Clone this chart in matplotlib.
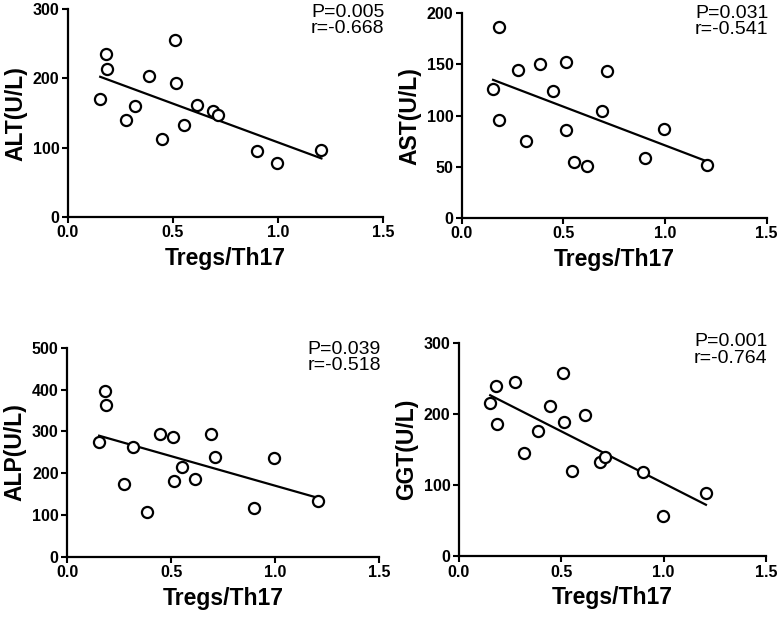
import numpy as np
import matplotlib
matplotlib.use('Agg')
import matplotlib.pyplot as plt

plt.rcParams['font.family'] = ['Liberation Sans', 'DejaVu Sans']
plt.rcParams['font.weight'] = 'bold'

# Tregs/Th17 ratio (shared by all four panels)
ratio = [0.154, 0.183, 0.185, 0.275, 0.318, 0.385, 0.447, 0.511, 0.513,
         0.552, 0.617, 0.692, 0.713, 0.899, 0.996, 1.207]

alt = [170, 235, 213, 140, 160, 203, 113, 255, 194, 133, 161, 153, 147, 95, 78, 97]
ast = [126, 186, 96, 144, 75, 150, 124, 152, 86, 55, 51, 104, 143, 59, 87, 52]
alp = [276, 397, 363, 174, 262, 107, 295, 286, 182, 214, 187, 293, 239, 118, 237, 134]
ggt = [216, 239, 186, 245, 145, 176, 212, 258, 189, 120, 199, 132, 139, 118, 56, 89]

ylabels = ['ALT(U/L)', 'AST(U/L)', 'ALP(U/L)', 'GGT(U/L)']
ymax = [300, 200, 500, 300]
ystep = [100, 50, 100, 100]
stats = ['P=0.005\nr=-0.668', 'P=0.031\nr=-0.541',
         'P=0.039\nr=-0.518', 'P=0.001\nr=-0.764']

fig = plt.figure(figsize=(7.8, 6.18), dpi=100)

# axes rectangles (figure fraction)
rects = [[0.087, 0.649, 0.404, 0.336],
         [0.592, 0.647, 0.391, 0.332],
         [0.086, 0.099, 0.400, 0.338],
         [0.588, 0.100, 0.394, 0.345]]
text_y = [1.025, 1.04, 1.035, 1.045]

x = np.array(ratio)
for i, yv in enumerate([alt, ast, alp, ggt]):
    ax = fig.add_axes(rects[i])
    y = np.array(yv)
    ax.plot(x, y, 'o', mfc='white', mec='black', ms=8, mew=1.6, zorder=3)
    # linear regression line
    k, b = np.polyfit(x, y, 1)
    xx = np.array([x.min(), x.max()])
    ax.plot(xx, k * xx + b, color='black', lw=1.6, zorder=2)

    ax.set_xlim(0, 1.5)
    ax.set_ylim(0, ymax[i])
    ax.set_xticks([0.0, 0.5, 1.0, 1.5])
    ax.set_xticklabels(['0.0', '0.5', '1.0', '1.5'])
    ax.set_yticks(np.arange(0, ymax[i] + 1, ystep[i]))
    ax.tick_params(direction='out', length=4, width=1.5, pad=2, labelsize=11.5)

    ax.spines['top'].set_visible(False)
    ax.spines['right'].set_visible(False)
    ax.spines['left'].set_linewidth(1.6)
    ax.spines['bottom'].set_linewidth(1.6)
    ax.patch.set_visible(False)

    ax.set_xlabel('Tregs/Th17', fontsize=16.5, fontweight='bold', labelpad=5)
    ax.set_ylabel(ylabels[i], fontsize=16.5, fontweight='bold', labelpad=4)

    ax.text(1.005, text_y[i], stats[i], transform=ax.transAxes, ha='right',
            va='top', fontsize=14, fontweight='normal', linespacing=0.95)

plt.savefig('out.png', dpi=100)
